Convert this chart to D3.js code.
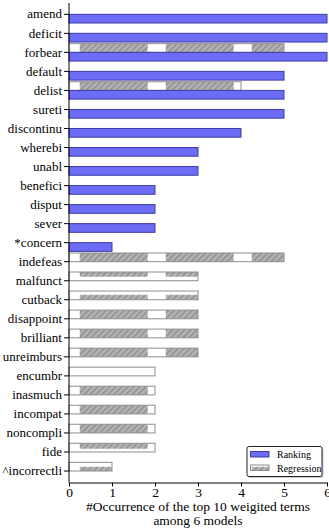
<!DOCTYPE html>
<html><head><meta charset="utf-8">
<script src="https://cdn.jsdelivr.net/npm/d3@7"></script>
<style>
body{margin:0;background:#fff;}
</style></head>
<body><svg id="c" width="329" height="528"></svg>
<script>
const categories = ["amend","deficit","forbear","default","delist","sureti","discontinu","wherebi","unabl","benefici","disput","sever","*concern","indefeas","malfunct","cutback","disappoint","brilliant","unreimburs","encumbr","inasmuch","incompat","noncompli","fide","^incorrectli"];
const rankingValues =    [6,6,6,5,5,5,4,3,3,2,2,2,1,0,0,0,0,0,0,0,0,0,0,0,0];
const regressionValues = [0,0,5,0,4,0,0,0,0,0,0,0,0,5,3,3,3,3,3,2,2,2,2,2,1];
const seriesNames = ["Regression","Ranking"];
const legendNames = ["Ranking","Regression"];
const xTicks = [0,1,2,3,4,5,6];
const xTitle = ["#Occurrence of the top 10 weigited terms","among 6 models"];

const FONT = "'Liberation Serif','DejaVu Serif','Times New Roman',serif";
const svg = d3.select("#c");
const x = d3.scaleLinear().domain([0,6]).range([69,327]);
const y = d3.scaleBand().domain(categories).range([4.8, 4.8 + 25*19.03]).padding(0);
const sub = d3.scaleBand().domain(seriesNames).range([0.8, 18.2]).padding(0);

// hatch pattern (texture tiled in user space)
const tile = x(2) - x(0);
const defs = svg.append("defs");
const pat = defs.append("pattern").attr("id","hatch").attr("patternUnits","userSpaceOnUse")
  .attr("x", x(0.25)).attr("y", 36.8).attr("width", tile).attr("height", tile);
pat.append("rect").attr("width", tile).attr("height", tile).attr("fill","#fff");
const hs = tile*0.79;
pat.append("rect").attr("width", hs).attr("height", hs).attr("fill","#b4b4b4");
const cp = defs.append("clipPath").attr("id","hclip");
cp.append("rect").attr("width", hs).attr("height", hs);
const lg = pat.append("g").attr("clip-path","url(#hclip)");
for (let k = -hs; k < hs*2; k += 6) {
  lg.append("line").attr("x1", k).attr("y1", hs).attr("x2", k+hs).attr("y2", 0)
    .attr("stroke","#8a8a8a").attr("stroke-width",1.3);
}

const data = categories.map((c,i)=>({c, Ranking: rankingValues[i], Regression: regressionValues[i]}));
const fills = {Ranking:"#6c6cf6", Regression:"url(#hatch)"};
const strokes = {Ranking:"#3c3ca6", Regression:"#8e8e8e"};

const g = svg.append("g");
data.forEach(d=>{
  seriesNames.forEach(s=>{
    if (d[s] > 0) {
      g.append("rect")
        .attr("x", x(0)).attr("y", y(d.c) + sub(s))
        .attr("width", x(d[s]) - x(0)).attr("height", sub.bandwidth())
        .attr("fill", fills[s]).attr("stroke", strokes[s]).attr("stroke-width", 1);
    }
  });
});

// y axis
const ya = svg.append("g").attr("transform",`translate(${x(0)},0)`)
  .call(d3.axisLeft(y).tickSize(5).tickSizeOuter(0).tickPadding(2));
ya.attr("font-family", null);
ya.select(".domain").remove();
ya.selectAll("text").style("font-family", FONT).style("font-size","13px").attr("fill","#000");
svg.append("line").attr("x1",x(0)).attr("x2",x(0)).attr("y1",3).attr("y2",482.5).attr("stroke","#000");

// x axis
const xa = svg.append("g").attr("transform","translate(0,482.5)")
  .call(d3.axisBottom(x).tickValues(xTicks).tickFormat(d3.format("d")).tickSize(4).tickSizeOuter(0).tickPadding(1));
xa.attr("font-family", null);
xa.selectAll("text").style("font-family", FONT).style("font-size","13.5px").attr("fill","#000");

svg.append("text").attr("x",198).attr("y",511).attr("text-anchor","middle")
  .style("font-family", FONT).style("font-size","13.5px").text(xTitle[0]);
svg.append("text").attr("x",198).attr("y",525).attr("text-anchor","middle")
  .style("font-family", FONT).style("font-size","13.5px").text(xTitle[1]);

// legend
const leg = svg.append("g");
leg.append("rect").attr("x",248.5).attr("y",448).attr("width",75).attr("height",30).attr("rx",2)
  .attr("fill","#999").attr("opacity",0.5);
leg.append("rect").attr("x",247).attr("y",446.5).attr("width",75).attr("height",30).attr("rx",2)
  .attr("fill","#fff").attr("stroke","#222").attr("stroke-width",1);
legendNames.forEach((n,i)=>{
  const yy = 451.5 + i*13.5;
  leg.append("rect").attr("x",250.5).attr("y",yy).attr("width",18.5).attr("height",5.5)
    .attr("fill",fills[n]).attr("stroke",strokes[n]).attr("stroke-width",1);
  leg.append("text").attr("x",277).attr("y",yy+6.5)
    .style("font-family", FONT).style("font-size","10px").text(n);
});
</script></body></html>
